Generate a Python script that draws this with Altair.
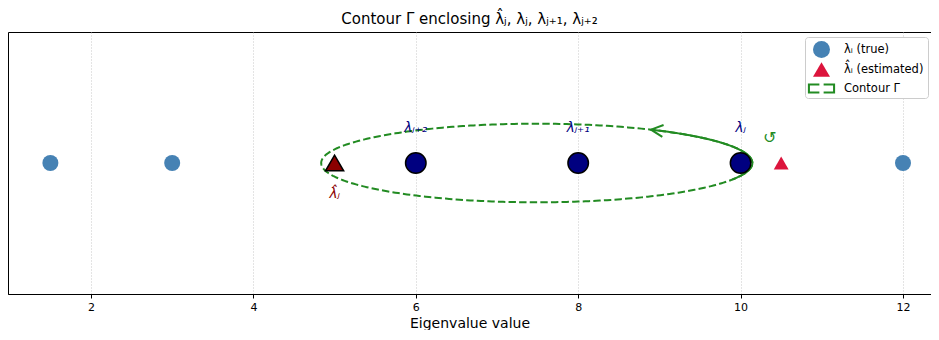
import numpy as np
import pandas as pd
import altair as alt

# ---- data ----
true_vals = [1.5, 3.0, 6.0, 8.0, 10.0, 12.0]
est_vals = [5.0, 10.5]
inside_true = [6.0, 8.0, 10.0]
inside_est = [5.0]
label_x = [6.0, 8.0, 10.0]
label_txt = ["λⱼ₊₂", "λⱼ₊₁", "λⱼ"]
label_y = [0.27, 0.27, 0.27]
hat_x = [5.0]
hat_txt = ["λ̂ⱼ"]
hat_y = [-0.24]
rot_x = [10.36]
rot_y = [0.19]
rot_txt = ["↺"]

# contour ellipse geometry
cx, cy, ax_a, ax_b = 7.49, 0.0, 2.655, 0.30
arc_start, arc_end = -25.0, 58.0

S_TRUE = "λᵢ (true)"
S_EST = "λ̂ᵢ (estimated)"
S_CON = "Contour Γ"

FONT = "DejaVu Sans"
GREEN = "#228B22"

t = np.linspace(0, 2 * np.pi, 361)
ell = pd.DataFrame({"x": cx + ax_a * np.cos(t), "y": cy + ax_b * np.sin(t), "o": np.arange(len(t))})
ta = np.radians(np.linspace(arc_start, arc_end, 120))
arc = pd.DataFrame({"x": cx + ax_a * np.cos(ta), "y": cy + ax_b * np.sin(ta), "o": np.arange(len(ta))})
tip = pd.DataFrame({"x": [cx + ax_a * np.cos(np.radians(arc_end))], "y": [cy + ax_b * np.sin(np.radians(arc_end))]})

df_true = pd.DataFrame({"x": true_vals, "y": 0.0, "series": S_TRUE})
df_est = pd.DataFrame({"x": est_vals, "y": 0.0, "series": S_EST})
df_in_true = pd.DataFrame({"x": inside_true, "y": 0.0})
df_in_est = pd.DataFrame({"x": inside_est, "y": 0.0})
df_lab = pd.DataFrame({"x": label_x, "y": label_y, "t": label_txt})
df_hat = pd.DataFrame({"x": hat_x, "y": hat_y, "t": hat_txt})
df_rot = pd.DataFrame({"x": rot_x, "y": rot_y, "t": rot_txt})


def rect(x0, y0, x1, y1):
    return f"M{x0},{y0}H{x1}V{y1}H{x0}Z"

th = 0.24
X0, X1, Y0, Y1 = -1.6, 1.6, -0.58, 0.58
dash_path = "".join([
    rect(X0, Y0, -0.25, Y0 + th), rect(0.25, Y0, X1, Y0 + th),
    rect(X0, Y1 - th, -0.25, Y1), rect(0.25, Y1 - th, X1, Y1),
    rect(X0, Y0, X0 + th, Y1), rect(X1 - th, Y0, X1, Y1),
])

xs = alt.Scale(domain=[0.978, 12.345], nice=False, zero=False)
ys = alt.Scale(domain=[-1, 1], nice=False, zero=False)
X = alt.X("x:Q", scale=xs, title="Eigenvalue value",
          axis=alt.Axis(values=[2, 4, 6, 8, 10, 12], format="d", grid=True,
                        gridDash=[1, 2], gridColor="#bbbbbb", gridWidth=0.8,
                        tickColor="black", tickSize=4, domainColor="black",
                        labelFontSize=11, labelFont=FONT, labelColor="black",
                        titleFontSize=14, titleFont=FONT, titleFontWeight="normal",
                        titleColor="black", labelPadding=3, titlePadding=4))
Y = alt.Y("y:Q", scale=ys, axis=None)

leg = dict(title=None, orient="none", legendX=797, legendY=5,
           fillColor="white", strokeColor="#cccccc", cornerRadius=3,
           padding=4, symbolSize=289, symbolStrokeWidth=0,
           labelFontSize=11.5, labelFont=FONT, labelColor="black",
           rowPadding=3, labelOffset=14, symbolOffset=4)
color = alt.Color("series:N",
                  scale=alt.Scale(domain=[S_TRUE, S_EST, S_CON], range=["steelblue", "crimson", GREEN]),
                  legend=alt.Legend(**leg))
shape = alt.Shape("series:N",
                  scale=alt.Scale(domain=[S_TRUE, S_EST, S_CON], range=["circle", "triangle-up", dash_path]),
                  legend=alt.Legend(**leg))

ellipse = alt.Chart(ell).mark_line(color=GREEN, strokeWidth=2, strokeDash=[7.4, 3.2]).encode(x=X, y=Y, order="o:Q")
arc_l = alt.Chart(arc).mark_line(color=GREEN, strokeWidth=2).encode(x=X, y=Y, order="o:Q")
head = alt.Chart(tip).mark_point(shape="M1.6,-0.8L0,0L1.6,0.8", filled=False, color=GREEN,
                                 strokeWidth=2, size=225, angle=6, opacity=1).encode(x=X, y=Y)

pts_true = alt.Chart(df_true).mark_point(filled=True, opacity=1, size=256).encode(x=X, y=Y, color=color, shape=shape)
pts_est = alt.Chart(df_est).mark_point(filled=True, opacity=1, size=220).encode(x=X, y=Y, color=color, shape=shape)
hi_true = alt.Chart(df_in_true).mark_point(shape="circle", filled=True, fill="navy", stroke="black",
                                           strokeWidth=1.5, size=420, opacity=1).encode(x=X, y=Y)
hi_est = alt.Chart(df_in_est).mark_point(shape="triangle-up", filled=True, fill="darkred", stroke="black",
                                         strokeWidth=1.5, size=330, opacity=1).encode(x=X, y=Y)
labs = alt.Chart(df_lab).mark_text(font=FONT, fontSize=13.5, fontStyle="italic", color="navy").encode(x=X, y=Y, text="t:N")
hats = alt.Chart(df_hat).mark_text(font=FONT, fontSize=13.5, fontStyle="italic", color="darkred").encode(x=X, y=Y, text="t:N")
rot = alt.Chart(df_rot).mark_text(font=FONT, fontSize=16, color=GREEN).encode(x=X, y=Y, text="t:N")

chart = alt.layer(ellipse, arc_l, head, pts_true, pts_est, hi_true, hi_est, labs, hats, rot).properties(
    width=923, height=262, padding={"top": 4, "left": 0, "right": 0, "bottom": 0},
    title=alt.TitleParams("Contour Γ enclosing λ̂ⱼ, λⱼ, λⱼ₊₁, λⱼ₊₂", fontSize=15, font=FONT,
                          fontWeight="normal", color="black", offset=5, anchor="middle"),
).configure_view(stroke="black", strokeWidth=1)

chart.save("out.html", embed_options={"renderer": "svg", "actions": False})
